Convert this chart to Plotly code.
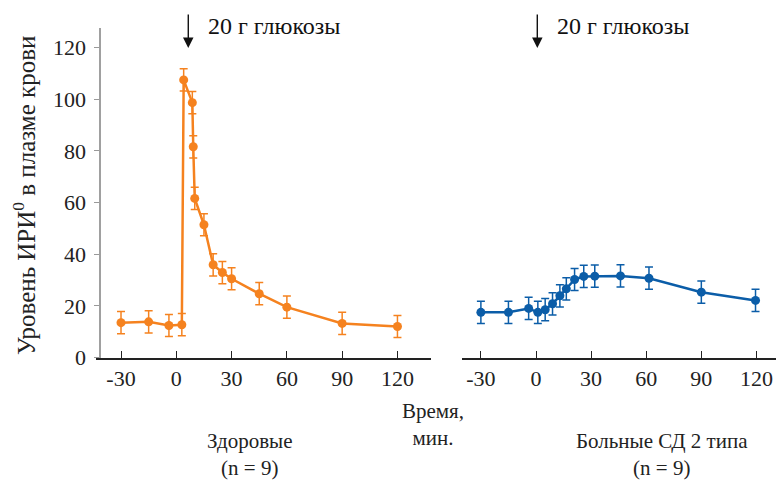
import plotly.graph_objects as go

# ---- data ----
healthy_t = [-30, -15, -4, 3, 4, 8.7, 9.2, 10, 15, 20, 25, 30, 45, 60, 90, 120]
healthy_v = [13.5, 13.8, 12.4, 12.7, 107.5, 98.7, 81.6, 61.6, 51.4, 35.9, 32.9, 30.5, 24.7, 19.5, 13.2, 12.0]
healthy_err = [4.3] * len(healthy_t)

diab_t = [-30, -15, -4, 1, 5, 9, 13, 16.5, 21, 26, 32, 46, 61.5, 90, 119.5]
diab_v = [17.5, 17.5, 19.0, 17.5, 18.5, 20.8, 23.9, 26.6, 30.2, 31.4, 31.5, 31.6, 30.7, 25.3, 22.1]
diab_err = [4.3] * len(diab_t)

x_ticks = [-30, 0, 30, 60, 90, 120]
y_ticks = [0, 20, 40, 60, 80, 100, 120]

ORANGE = "#F5821F"
BLUE = "#0B5DA8"
FONT = "Liberation Serif, DejaVu Serif, serif"
W, H = 776, 481

def px(x):
    return x / W

def py(y):
    return 1 - y / H

fig = go.Figure()
fig.add_trace(go.Scatter(
    x=healthy_t, y=healthy_v, mode="lines+markers",
    line=dict(color=ORANGE, width=2.5),
    marker=dict(color=ORANGE, size=9),
    error_y=dict(type="data", array=healthy_err, color=ORANGE, thickness=1.5, width=4),
    xaxis="x", yaxis="y", showlegend=False))
fig.add_trace(go.Scatter(
    x=diab_t, y=diab_v, mode="lines+markers",
    line=dict(color=BLUE, width=2.5),
    marker=dict(color=BLUE, size=9),
    error_y=dict(type="data", array=diab_err, color=BLUE, thickness=1.5, width=4),
    xaxis="x2", yaxis="y2", showlegend=False))

ydom = [py(357.5), py(28)]
yrange = [0, 127.6]
tickfont = dict(family=FONT, size=22, color="#222")

xcommon = dict(
    tickvals=x_ticks, ticktext=[str(v) for v in x_ticks],
    ticks="inside", ticklen=7, tickwidth=1.2, tickcolor="#222",
    showline=True, linecolor="#222", linewidth=1.5,
    showgrid=False, zeroline=False, tickfont=tickfont, automargin=False,
)

fig.update_layout(
    template="none",
    width=W, height=H,
    margin=dict(l=0, r=0, t=0, b=0, pad=0),
    plot_bgcolor="white", paper_bgcolor="white",
    font=dict(family=FONT, color="#222"),
    xaxis=dict(domain=[px(96), px(430.7)], range=[-43.57, 138.04], anchor="y", **xcommon),
    xaxis2=dict(domain=[px(462.3), 1.0], range=[-40.12, 130.65], anchor="y2", **xcommon),
    yaxis=dict(domain=ydom, range=yrange, anchor="free", position=px(99.5),
               tickvals=y_ticks, ticks="outside", ticklen=5, tickcolor="#999",
               showline=True, linecolor="#a0a0a0", linewidth=2, automargin=False,
               showgrid=False, zeroline=False, tickfont=tickfont, ticklabelstandoff=3),
    yaxis2=dict(domain=ydom, range=yrange, anchor="x2", visible=False, automargin=False),
)

ann = []
# arrows
for xr, xv in [("x", 6.5), ("x2", 0.7)]:
    ann.append(dict(xref=xr, yref="paper", x=xv, y=py(48), ax=0, ay=-35,
                    axref="pixel", ayref="pixel", text="", showarrow=True,
                    arrowhead=2, arrowsize=1.5, arrowwidth=1.4, arrowcolor="#111"))
for x0 in [206, 555]:
    ann.append(dict(xref="paper", yref="paper", x=px(x0), y=py(26), xanchor="left",
                    yanchor="middle", text="20 г глюкозы", showarrow=False,
                    font=dict(family=FONT, size=24, color="#111")))
# y title
ann.append(dict(xref="paper", yref="paper", x=px(24), y=py(196), textangle=-90,
                text="Уровень ИРИ<sup>0</sup> в плазме крови", showarrow=False,
                xanchor="center", yanchor="middle",
                font=dict(family=FONT, size=25, color="#222")))

def label(x, y, t, size=22):
    ann.append(dict(xref="paper", yref="paper", x=px(x), y=py(y), text=t,
                    showarrow=False, xanchor="center", yanchor="middle",
                    font=dict(family=FONT, size=size, color="#222")))

label(433, 424, "Время,<br>мин.", 21)
label(250, 454, "Здоровые<br>(n = 9)", 21)
label(662, 454, "Больные СД 2 типа<br>(n = 9)", 21)
fig.update_layout(annotations=ann)

fig.write_html("out.html",
               config={"displayModeBar": False},
               post_script="document.body.style.margin='0';document.body.style.overflow='hidden';")
